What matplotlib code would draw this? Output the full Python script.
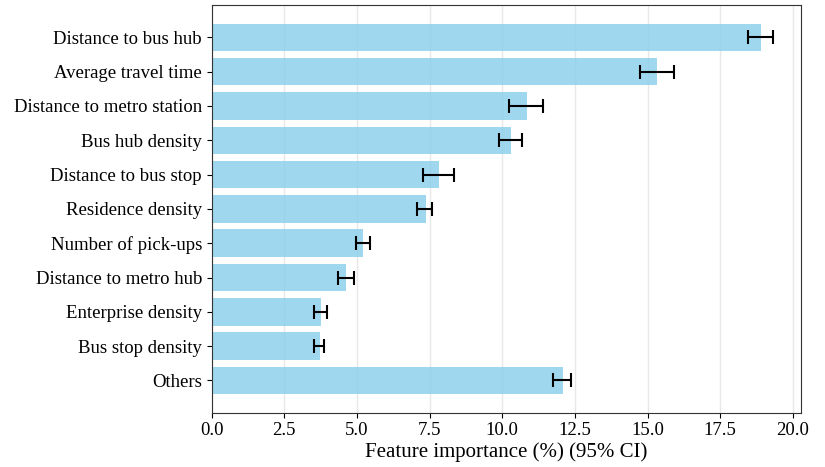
import numpy as np
import matplotlib
matplotlib.use("Agg")
import matplotlib.pyplot as plt

plt.rcParams['font.family'] = 'serif'
plt.rcParams['font.serif'] = ['Liberation Serif', 'DejaVu Serif']

# Feature importance values (%) with 95% CI bounds
features = [
    "Distance to bus hub",
    "Average travel time",
    "Distance to metro station",
    "Bus hub density",
    "Distance to bus stop",
    "Residence density",
    "Number of pick-ups",
    "Distance to metro hub",
    "Enterprise density",
    "Bus stop density",
    "Others",
]
importance = [18.90, 15.32, 10.84, 10.29, 7.81, 7.38, 5.20, 4.61, 3.75, 3.72, 12.08]
ci_low = [18.44, 14.72, 10.24, 9.87, 7.27, 7.08, 4.98, 4.35, 3.53, 3.51, 11.76]
ci_high = [19.31, 15.90, 11.39, 10.68, 8.32, 7.58, 5.46, 4.89, 3.98, 3.88, 12.37]

imp = np.array(importance)
xerr = np.vstack([imp - np.array(ci_low), np.array(ci_high) - imp])
y = np.arange(len(features))

fig = plt.figure(figsize=(8.25, 4.67), dpi=100)
ax = fig.add_axes([0.2566, 0.1163, 0.9709 - 0.2566, 0.989 - 0.1163])

ax.barh(y, imp, height=0.8, color='skyblue', alpha=0.8, zorder=2)
ax.errorbar(imp, y, xerr=xerr, fmt='none', ecolor='black', elinewidth=1.5,
            capsize=5, capthick=1.5, zorder=3)

ax.set_yticks(y)
ax.set_yticklabels(features, fontsize=13.5)
ax.invert_yaxis()
ax.tick_params(axis='x', labelsize=13.5)
ax.set_xlabel("Feature importance (%) (95% CI)", fontsize=15, labelpad=2)

ax.grid(True, axis='x', color='lightgray', alpha=0.5, linewidth=1, zorder=0)
ax.set_axisbelow(True)
for s in ax.spines.values():
    s.set_color('#333333')

fig.savefig("out.png", dpi=100)
